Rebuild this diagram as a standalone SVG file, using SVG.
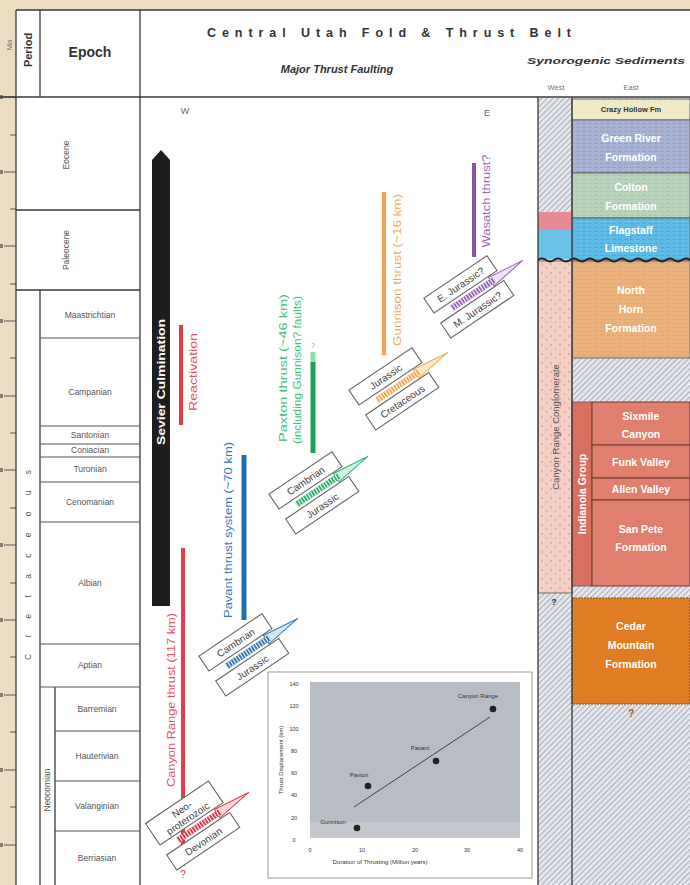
<svg xmlns="http://www.w3.org/2000/svg" width="690" height="885" viewBox="0 0 690 885">
<defs>
<pattern id="hatch" width="4" height="4" patternUnits="userSpaceOnUse" patternTransform="rotate(45)"><rect width="4" height="4" fill="#e3e6ec"/><line x1="0" y1="0" x2="0" y2="4" stroke="#8e9198" stroke-width="1.3"/></pattern>
<pattern id="dots" width="9" height="9" patternUnits="userSpaceOnUse"><rect width="9" height="9" fill="#f4cfc3"/><circle cx="2" cy="3" r="0.8" fill="#c98f85"/><circle cx="6.5" cy="7" r="0.7" fill="#c98f85"/></pattern>
<pattern id="gr" width="6" height="4" patternUnits="userSpaceOnUse"><rect width="6" height="4" fill="#a7b2d5"/><line x1="0" y1="3.5" x2="4" y2="3.5" stroke="#8f9bc3" stroke-width="0.8"/></pattern>
<pattern id="cl" width="6" height="4" patternUnits="userSpaceOnUse"><rect width="6" height="4" fill="#b7d3bb"/><line x1="0" y1="3.5" x2="4" y2="3.5" stroke="#a2c2a6" stroke-width="0.8"/></pattern>
<pattern id="fl" width="6" height="4" patternUnits="userSpaceOnUse"><rect width="6" height="4" fill="#5dbbe5"/><line x1="0" y1="3.5" x2="4" y2="3.5" stroke="#48a6d3" stroke-width="0.8"/></pattern>
<pattern id="nh" width="6" height="4" patternUnits="userSpaceOnUse"><rect width="6" height="4" fill="#e9b07b"/><line x1="0" y1="3.5" x2="4" y2="3.5" stroke="#dca06a" stroke-width="0.6"/></pattern>
<style>
.ln{stroke:#3a3a3a;stroke-width:1.3;fill:none}
.lnt{stroke:#555;stroke-width:1;fill:none}
.stg{font-family:"Liberation Sans",Arial,sans-serif;font-size:8.5px;fill:#555;text-anchor:middle}
.fm{font-family:"Liberation Sans",Arial,sans-serif;font-size:10.5px;font-weight:bold;fill:#fff;text-anchor:middle}
.lbl{font-family:"Liberation Sans",Arial,sans-serif;font-size:10.5px;text-anchor:middle}
.box{fill:#fff;stroke:#666;stroke-width:1.1}
.bt{font-family:"Liberation Sans",Arial,sans-serif;font-size:10px;fill:#444;text-anchor:middle}
.ax{font-family:"Liberation Sans",Arial,sans-serif;font-size:5.5px;fill:#333;text-anchor:middle}
.pt{font-family:"Liberation Sans",Arial,sans-serif;font-size:6px;fill:#333;text-anchor:middle}
</style>
</defs>
<rect width="690" height="885" fill="#fff"/>
<rect x="0" y="0" width="690" height="10" fill="#ebdcc2"/>
<rect x="0" y="0" width="16" height="885" fill="#ebdcc2"/>

<g id="ma-axis">
<g class="lnt" stroke="#7a6a55">
<line x1="4" y1="97" x2="16" y2="97"/><line x1="4" y1="172" x2="16" y2="172"/><line x1="4" y1="246" x2="16" y2="246"/><line x1="4" y1="321" x2="16" y2="321"/><line x1="4" y1="396" x2="16" y2="396"/><line x1="4" y1="470" x2="16" y2="470"/><line x1="4" y1="545" x2="16" y2="545"/><line x1="4" y1="620" x2="16" y2="620"/><line x1="4" y1="695" x2="16" y2="695"/><line x1="4" y1="770" x2="16" y2="770"/><line x1="4" y1="845" x2="16" y2="845"/>
<line x1="10" y1="135" x2="16" y2="135"/><line x1="10" y1="209" x2="16" y2="209"/><line x1="10" y1="284" x2="16" y2="284"/><line x1="10" y1="358" x2="16" y2="358"/><line x1="10" y1="433" x2="16" y2="433"/><line x1="10" y1="508" x2="16" y2="508"/><line x1="10" y1="583" x2="16" y2="583"/><line x1="10" y1="657" x2="16" y2="657"/><line x1="10" y1="732" x2="16" y2="732"/><line x1="10" y1="807" x2="16" y2="807"/>
</g>
<g fill="#8a7b66"><rect x="0" y="95" width="3" height="4"/><rect x="0" y="170" width="3" height="4"/><rect x="0" y="244" width="3" height="4"/><rect x="0" y="319" width="3" height="4"/><rect x="0" y="394" width="3" height="4"/><rect x="0" y="468" width="3" height="4"/><rect x="0" y="543" width="3" height="4"/><rect x="0" y="618" width="3" height="4"/><rect x="0" y="693" width="3" height="4"/><rect x="0" y="768" width="3" height="4"/><rect x="0" y="843" width="3" height="4"/></g>
<text transform="translate(12,45) rotate(-90)" font-family="Liberation Sans, Arial, sans-serif" font-size="8" fill="#777" text-anchor="middle">Ma</text>
</g>

<g id="timescale">
<line class="ln" x1="16" y1="10" x2="690" y2="10"/>
<line class="ln" x1="16" y1="10" x2="16" y2="885"/>
<line class="ln" x1="40" y1="10" x2="40" y2="97"/>
<line class="ln" x1="40" y1="290" x2="40" y2="885"/>
<line class="ln" x1="140" y1="10" x2="140" y2="885"/>
<line class="ln" x1="55" y1="687" x2="55" y2="885"/>
<line class="ln" x1="0" y1="97" x2="690" y2="97"/>
<line class="ln" x1="16" y1="210" x2="140" y2="210"/>
<line class="ln" x1="16" y1="290" x2="140" y2="290"/>
<g class="lnt"><line x1="40" y1="338" x2="140" y2="338"/><line x1="40" y1="426" x2="140" y2="426"/><line x1="40" y1="444" x2="140" y2="444"/><line x1="40" y1="457" x2="140" y2="457"/><line x1="40" y1="482" x2="140" y2="482"/><line x1="40" y1="522" x2="140" y2="522"/><line x1="40" y1="644" x2="140" y2="644"/><line x1="40" y1="687" x2="140" y2="687"/><line x1="55" y1="731" x2="140" y2="731"/><line x1="55" y1="781" x2="140" y2="781"/><line x1="55" y1="831" x2="140" y2="831"/></g>
<text transform="translate(32,50) rotate(-90)" font-family="Liberation Sans, Arial, sans-serif" font-size="11" font-weight="bold" fill="#333" text-anchor="middle">Period</text>
<text x="90" y="57" font-family="Liberation Sans, Arial, sans-serif" font-size="14" font-weight="bold" fill="#333" text-anchor="middle">Epoch</text>
<text class="stg" transform="translate(69,155) rotate(-90)">Eocene</text>
<text class="stg" transform="translate(69,250) rotate(-90)">Paleocene</text>
<text class="stg" transform="translate(31,565) rotate(-90)" textLength="190" lengthAdjust="spacing">Cretaceous</text>
<text class="stg" transform="translate(50,790) rotate(-90)" font-size="7.5">Neocomian</text>
<text class="stg" x="90" y="318">Maastrichtian</text>
<text class="stg" x="90" y="395">Campanian</text>
<text class="stg" x="90" y="438">Santonian</text>
<text class="stg" x="90" y="453" font-size="7.5">Coniacian</text>
<text class="stg" x="90" y="472">Turonian</text>
<text class="stg" x="90" y="505">Cenomanian</text>
<text class="stg" x="90" y="586">Albian</text>
<text class="stg" x="90" y="668">Aptian</text>
<text class="stg" x="97" y="712">Barremian</text>
<text class="stg" x="97" y="759">Hauterivian</text>
<text class="stg" x="97" y="809">Valanginian</text>
<text class="stg" x="97" y="861">Berriasian</text>
</g>

<g id="titles">
<text x="389" y="37" font-family="Liberation Sans, Arial, sans-serif" font-size="12.5" font-weight="bold" fill="#333" text-anchor="middle" textLength="364" lengthAdjust="spacing">Central Utah Fold &amp; Thrust Belt</text>
<text x="337" y="73" font-family="Liberation Sans, Arial, sans-serif" font-size="11" font-weight="bold" font-style="italic" fill="#333" text-anchor="middle">Major Thrust Faulting</text>
<text x="606" y="64" font-family="Liberation Sans, Arial, sans-serif" font-size="9" font-weight="bold" font-style="italic" fill="#333" text-anchor="middle" textLength="158" lengthAdjust="spacingAndGlyphs">Synorogenic Sediments</text>
<text x="556" y="90" font-family="Liberation Sans, Arial, sans-serif" font-size="7.5" fill="#777" text-anchor="middle">West</text>
<text x="631" y="90" font-family="Liberation Sans, Arial, sans-serif" font-size="7.5" fill="#777" text-anchor="middle">East</text>
<text x="185" y="114" font-family="Liberation Sans, Arial, sans-serif" font-size="9" fill="#666" text-anchor="middle">W</text>
<text x="487" y="116" font-family="Liberation Sans, Arial, sans-serif" font-size="9" fill="#666" text-anchor="middle">E</text>
</g>

<g id="sediments">
<rect x="538" y="98" width="152" height="787" fill="url(#hatch)"/>
<rect id="crazy-hollow" x="572" y="99" width="118" height="21" fill="#efebc6" stroke="#555" stroke-width="0.8"/>
<text x="631" y="112" font-family="Liberation Sans, Arial, sans-serif" font-size="7.5" font-weight="bold" fill="#333" text-anchor="middle">Crazy Hollow Fm</text>
<rect x="572" y="120" width="118" height="53" fill="url(#gr)" stroke="#555" stroke-width="0.8"/>
<text class="fm" x="631" y="142">Green River</text><text class="fm" x="631" y="161">Formation</text>
<rect x="572" y="173" width="118" height="45" fill="url(#cl)" stroke="#555" stroke-width="0.8"/>
<text class="fm" x="631" y="191">Colton</text><text class="fm" x="631" y="210">Formation</text>
<rect x="572" y="218" width="118" height="42" fill="url(#fl)" stroke="#555" stroke-width="0.8"/>
<text class="fm" x="631" y="234">Flagstaff</text><text class="fm" x="631" y="252">Limestone</text>
<rect x="538" y="212" width="34" height="18" fill="#e88a96"/>
<rect x="538" y="230" width="34" height="29" fill="#6ac2e8"/>
<rect x="572" y="261" width="118" height="97" fill="url(#nh)" stroke="#555" stroke-width="0.8"/>
<text class="fm" x="631" y="294">North</text><text class="fm" x="631" y="313">Horn</text><text class="fm" x="631" y="332">Formation</text>
<rect x="538" y="261" width="34" height="332" fill="url(#dots)" stroke="#555" stroke-width="0.8"/>
<text transform="translate(559,427) rotate(-90)" font-family="Liberation Sans, Arial, sans-serif" font-size="9.5" fill="#555" text-anchor="middle">Canyon Range Conglomerate</text>
<path d="M538,260 q4,-3 8,0 t8,0 t8,0 t8,0 t8,0 t8,0 t8,0 t8,0 t8,0 t8,0 t8,0 t8,0 t8,0 t8,0 t8,0 t8,0 t8,0 t8,0 t8,0" fill="none" stroke="#222" stroke-width="2"/>
<rect x="572" y="402" width="20" height="184" fill="#d9705f" stroke="#555" stroke-width="0.8"/>
<text class="fm" transform="translate(586,494) rotate(-90)" font-size="9.5" font-weight="normal">Indianola Group</text>
<rect x="592" y="402" width="98" height="43" fill="#e07f6d" stroke="#6b3a30" stroke-width="1"/>
<text class="fm" x="641" y="420">Sixmile</text><text class="fm" x="641" y="438">Canyon</text>
<rect x="592" y="445" width="98" height="33" fill="#e07f6d" stroke="#6b3a30" stroke-width="1"/>
<text class="fm" x="641" y="466">Funk Valley</text>
<rect x="592" y="478" width="98" height="22" fill="#e07f6d" stroke="#6b3a30" stroke-width="1"/>
<text class="fm" x="641" y="493">Allen Valley</text>
<rect x="592" y="500" width="98" height="86" fill="#e07f6d" stroke="#6b3a30" stroke-width="1"/>
<text class="fm" x="641" y="533">San Pete</text><text class="fm" x="641" y="551">Formation</text>
<rect x="572" y="598" width="118" height="106" fill="#e27c22" stroke="#7a4a20" stroke-width="1" stroke-dasharray="2 1"/>
<text class="fm" x="631" y="630">Cedar</text><text class="fm" x="631" y="649">Mountain</text><text class="fm" x="631" y="668">Formation</text>
<text x="554" y="605" font-family="Liberation Sans, Arial, sans-serif" font-size="9" font-weight="bold" fill="#333" text-anchor="middle">?</text>
<text x="631" y="717" font-family="Liberation Sans, Arial, sans-serif" font-size="10" font-weight="bold" fill="#a06010" text-anchor="middle">?</text>
<line class="ln" x1="538" y1="97" x2="538" y2="885"/>
<line class="ln" x1="572" y1="97" x2="572" y2="885" stroke-width="0.9"/>
</g>

<g id="connectors">
<g id="sevier">
<path d="M152,160 L161,150 L170,160 L170,606 L152,606 Z" fill="#1e1e1e"/>
<text transform="translate(165,382) rotate(-90)" font-family="Liberation Sans, Arial, sans-serif" font-size="10.5" font-weight="bold" fill="#fff" text-anchor="middle" textLength="126" lengthAdjust="spacingAndGlyphs">Sevier Culmination</text>
</g>
<g id="reactivation">
<line x1="181" y1="325" x2="181" y2="425" stroke="#e03c4a" stroke-width="4"/>
<text class="lbl" fill="#e8505c" transform="translate(197,372) rotate(-90)" textLength="78" lengthAdjust="spacingAndGlyphs">Reactivation</text>
</g>
<g id="canyon-range">
<line x1="183" y1="548" x2="183" y2="866" stroke="#e03c4a" stroke-width="4"/>
<text class="lbl" fill="#e8505c" transform="translate(175,700) rotate(-90)" textLength="174" lengthAdjust="spacingAndGlyphs">Canyon Range thrust (117 km)</text>
<text x="183" y="878" font-family="Liberation Sans, Arial, sans-serif" font-size="10" fill="#e03c4a" text-anchor="middle">?</text>
</g>
<g id="pavant">
<line x1="244" y1="455" x2="244" y2="620" stroke="#1f6fae" stroke-width="5"/>
<text class="lbl" fill="#3a78b5" transform="translate(232,530) rotate(-90)" textLength="176" lengthAdjust="spacingAndGlyphs">Pavant thrust system (~70 km)</text>
</g>
<g id="paxton">
<line x1="313" y1="352" x2="313" y2="362" stroke="#90e0a8" stroke-width="5"/>
<line x1="313" y1="362" x2="313" y2="453" stroke="#1aa05a" stroke-width="5"/>
<text x="313" y="348" font-family="Liberation Sans, Arial, sans-serif" font-size="7" fill="#999" text-anchor="middle">?</text>
<text class="lbl" fill="#3cc07a" transform="translate(287,368) rotate(-90)" textLength="148" lengthAdjust="spacingAndGlyphs">Paxton thrust (~46 km)</text>
<text class="lbl" fill="#3cc07a" transform="translate(301,370) rotate(-90)" textLength="148" lengthAdjust="spacingAndGlyphs">(including Gunnison? faults)</text>
</g>
<g id="gunnison">
<line x1="384" y1="192" x2="384" y2="355" stroke="#f0a050" stroke-width="4"/>
<text class="lbl" fill="#f2a955" transform="translate(401,270) rotate(-90)" textLength="152" lengthAdjust="spacingAndGlyphs">Gunnison thrust (~16 km)</text>
</g>
<g id="wasatch">
<line x1="474" y1="163" x2="474" y2="257" stroke="#8a55a8" stroke-width="4"/>
<text class="lbl" fill="#9966bb" transform="translate(490,201) rotate(-90)" textLength="93" lengthAdjust="spacingAndGlyphs">Wasatch thrust?</text>
</g>
</g>

<g id="cutoffs">
<g id="cut-wasatch" transform="translate(473,294) rotate(-34)">
<polygon points="22,-5 60,0 22,5" fill="#efe2f6" stroke="#9966bb" stroke-width="1"/>
<rect class="box" x="-43" y="-24" width="76" height="18"/>
<text class="bt" x="-5" y="-11">E. Jurassic?</text>
<line x1="-26" y1="0" x2="26" y2="0" stroke="#9966bb" stroke-width="6"/>
<line x1="-26" y1="0" x2="26" y2="0" stroke="#fff" stroke-width="6" stroke-dasharray="1 2"/>
<rect class="box" x="-43" y="6" width="76" height="18"/>
<text class="bt" x="-5" y="19">M. Jurassic?</text>
</g>
<g id="cut-gunnison" transform="translate(398,386) rotate(-34)">
<polygon points="22,-5 60,0 22,5" fill="#fdebc8" stroke="#f2a955" stroke-width="1"/>
<rect class="box" x="-43" y="-24" width="76" height="18"/>
<text class="bt" x="-5" y="-11">Jurassic</text>
<line x1="-26" y1="0" x2="26" y2="0" stroke="#f2a955" stroke-width="6"/>
<line x1="-26" y1="0" x2="26" y2="0" stroke="#fff" stroke-width="6" stroke-dasharray="1 2"/>
<rect class="box" x="-43" y="6" width="76" height="18"/>
<text class="bt" x="-5" y="19">Cretaceous</text>
</g>
<g id="cut-paxton" transform="translate(318,490) rotate(-34)">
<polygon points="22,-5 60,0 22,5" fill="#d6f4e2" stroke="#2fb070" stroke-width="1"/>
<rect class="box" x="-43" y="-24" width="76" height="18"/>
<text class="bt" x="-5" y="-11">Cambrian</text>
<line x1="-26" y1="0" x2="26" y2="0" stroke="#2fb070" stroke-width="6"/>
<line x1="-26" y1="0" x2="26" y2="0" stroke="#fff" stroke-width="6" stroke-dasharray="1 2"/>
<rect class="box" x="-43" y="6" width="76" height="18"/>
<text class="bt" x="-5" y="19">Jurassic</text>
</g>
<g id="cut-pavant" transform="translate(248,652) rotate(-34)">
<polygon points="22,-5 60,0 22,5" fill="#d4e8f8" stroke="#3a78b5" stroke-width="1"/>
<rect class="box" x="-43" y="-24" width="76" height="18"/>
<text class="bt" x="-5" y="-11">Cambrian</text>
<line x1="-26" y1="0" x2="26" y2="0" stroke="#3a78b5" stroke-width="6"/>
<line x1="-26" y1="0" x2="26" y2="0" stroke="#fff" stroke-width="6" stroke-dasharray="1 2"/>
<rect class="box" x="-43" y="6" width="76" height="18"/>
<text class="bt" x="-5" y="19">Jurassic</text>
</g>
<g id="cut-canyon" transform="translate(199,826) rotate(-34)">
<polygon points="22,-5 60,0 22,5" fill="#fbdadd" stroke="#e03c4a" stroke-width="1"/>
<rect class="box" x="-43" y="-32" width="76" height="26"/>
<text class="bt" x="-5" y="-20">Neo-</text>
<text class="bt" x="-5" y="-9">proterozoic</text>
<line x1="-26" y1="0" x2="26" y2="0" stroke="#e03c4a" stroke-width="6"/>
<line x1="-26" y1="0" x2="26" y2="0" stroke="#fff" stroke-width="6" stroke-dasharray="1 2"/>
<rect class="box" x="-43" y="6" width="76" height="18"/>
<text class="bt" x="-5" y="19">Devonian</text>
</g>
</g>

<g id="inset-chart">
<rect x="268" y="672" width="264" height="206" fill="#fff" stroke="#999" stroke-width="1"/>
<rect x="310" y="682" width="210" height="156" fill="#b8bcc4"/>
<rect x="310" y="822" width="210" height="16" fill="#c4c7cc"/>
<g class="ax">
<text x="294" y="686">140</text><text x="294" y="708">120</text><text x="294" y="731">100</text><text x="294" y="753">80</text><text x="294" y="775">60</text><text x="294" y="797">40</text><text x="294" y="820">20</text><text x="294" y="842">0</text>
<text x="310" y="852">0</text><text x="362" y="852">10</text><text x="415" y="852">20</text><text x="467" y="852">30</text><text x="520" y="852">40</text>
</g>
<text x="380" y="864" font-family="Liberation Sans, Arial, sans-serif" font-size="6" fill="#333" text-anchor="middle">Duration of Thrusting (Million years)</text>
<text transform="translate(283,760) rotate(-90)" font-family="Liberation Sans, Arial, sans-serif" font-size="6" fill="#333" text-anchor="middle">Thrust Displacement (km)</text>
<line x1="354" y1="807" x2="490" y2="717" stroke="#444" stroke-width="1"/>
<g fill="#222"><circle cx="493" cy="709" r="3.3"/><circle cx="436" cy="761" r="3.3"/><circle cx="368" cy="786" r="3.3"/><circle cx="357" cy="828" r="3.3"/></g>
<text class="pt" x="478" y="698">Canyon Range</text>
<text class="pt" x="420" y="750">Pavant</text>
<text class="pt" x="359" y="777">Paxton</text>
<text class="pt" x="333" y="824">Gunnison</text>
</g>
</svg>
